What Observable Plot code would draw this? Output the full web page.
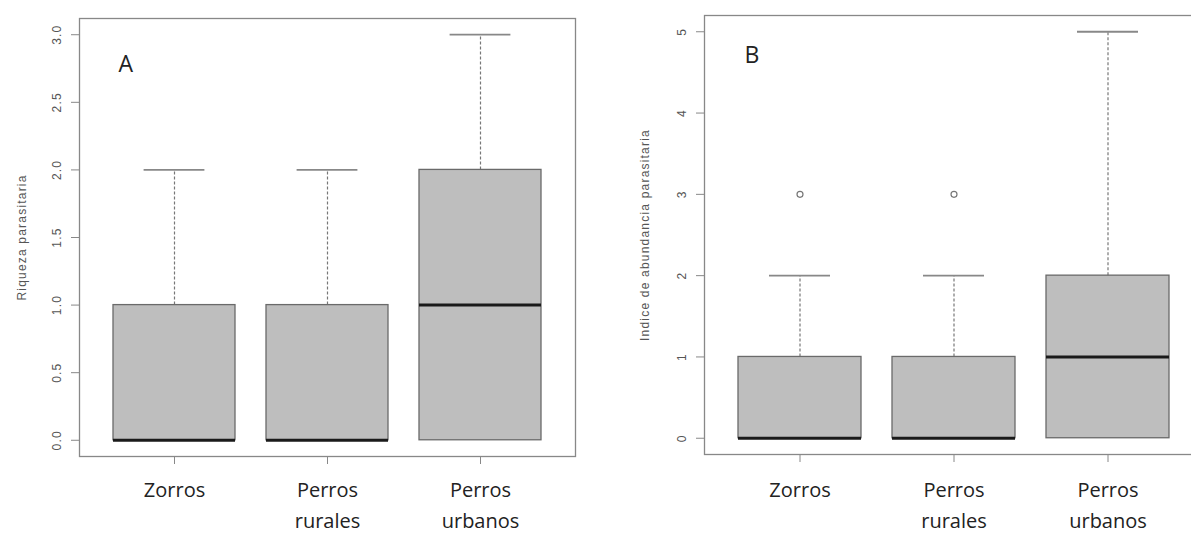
<!DOCTYPE html>
<html>
<head>
<meta charset="utf-8">
<script src="https://cdn.jsdelivr.net/npm/d3@7"></script>
<script src="https://cdn.jsdelivr.net/npm/@observablehq/plot@0.6"></script>
<style>
  html, body { margin: 0; padding: 0; background: #fff; }
  #wrap { position: relative; width: 1191px; height: 534px; overflow: hidden; background: #fff; }
  #wrap > div { position: absolute; top: 0; }
  #panelA { left: 0; width: 590px; }
  #panelB { left: 590px; width: 628px; }
  #wrap svg { max-width: none !important; overflow: visible; }
  svg g[aria-label="y-axis tick label"], svg g[aria-label="y-axis label"] { letter-spacing: 1.2px; fill: #555; }
  svg g[aria-label="x-axis tick label"] { fill: #222; }
  svg g[aria-label="y-axis tick"], svg g[aria-label="x-axis tick"] { stroke: #888; }
</style>
</head>
<body>
<div id="wrap"><div id="panelA"></div><div id="panelB"></div></div>
<script>
// ---- shared categories ----
const categories = ["Zorros", "Perros rurales", "Perros urbanos"];
const tickLabels = ["Zorros", "Perros\nrurales", "Perros\nurbanos"];

// ---- Panel A: Riqueza parasitaria ----
const aLower  = [0, 0, 0];
const aQ1     = [0, 0, 0];
const aMedian = [0, 0, 1];
const aQ3     = [1, 1, 2];
const aUpper  = [2, 2, 3];
const aOutCat = [];
const aOutVal = [];
const aTicks  = [0, 0.5, 1, 1.5, 2, 2.5, 3];
const aTitle  = "Riqueza parasitaria";

// ---- Panel B: Índice de abundancia parasitaria ----
const bLower  = [0, 0, 0];
const bQ1     = [0, 0, 0];
const bMedian = [0, 0, 1];
const bQ3     = [1, 1, 2];
const bUpper  = [2, 2, 5];
const bOutCat = ["Zorros", "Perros rurales"];
const bOutVal = [3, 3];
const bTicks  = [0, 1, 2, 3, 4, 5];
const bTitle  = "Indice de abundancia parasitaria";

function boxPanel({lower, q1, median, q3, upper, outCat, outVal, ticks, fmt, title, letter,
                   width, mLeft, mRight, mTop, mBottom, yDomain, capInset, letterDx, letterDy, labelOffset, xPad}) {
  const rows = categories.map((c, i) => ({cat: c, lo: lower[i], q1: q1[i], med: median[i], q3: q3[i], hi: upper[i]}));
  const outs = outCat.map((c, i) => ({cat: c, v: outVal[i]}));
  return Plot.plot({
    width, height: 534,
    marginLeft: mLeft, marginRight: mRight, marginTop: mTop, marginBottom: mBottom,
    style: {fontFamily: "Liberation Sans, Arial, sans-serif", fontSize: "12px", background: "#fff", overflow: "visible"},
    x: {type: "band", domain: categories, paddingInner: 0.2, paddingOuter: 0.22, align: 0.5},
    y: {domain: yDomain},
    marks: [
      Plot.frame({stroke: "#888", strokeWidth: 1.3}),
      Plot.ruleX(rows, {x: "cat", y1: "q3", y2: "hi", stroke: "#777", strokeWidth: 1.2, strokeDasharray: "3,2"}),
      Plot.tickY(rows, {x: "cat", y: "hi", stroke: "#888", strokeWidth: 1.8, insetLeft: capInset, insetRight: capInset}),
      Plot.barY(rows, {x: "cat", y1: "q1", y2: "q3", fill: "#bebebe", stroke: "#6a6a6a", strokeWidth: 1.3}),
      Plot.tickY(rows, {x: "cat", y: "med", stroke: "#1a1a1a", strokeWidth: 3}),
      Plot.dot(outs, {x: "cat", y: "v", r: 3, stroke: "#777", fill: "none", strokeWidth: 1.2}),
      Plot.axisY({ticks, tickFormat: fmt, tickSize: 8, tickPadding: 11, tickRotate: -90,
                  label: title, labelAnchor: "center", labelArrow: "none", labelOffset}),
      Plot.axisX({tickSize: 8, tickPadding: xPad, label: null,
                  tickFormat: (d) => tickLabels[categories.indexOf(d)],
                  fontSize: 20, fontFamily: "Open Sans", lineHeight: 1.55}),
      Plot.text([letter], {frameAnchor: "top-left", textAnchor: "start", lineAnchor: "top",
                           dx: letterDx, dy: letterDy, fontSize: 23, fontFamily: "Open Sans", fill: "#222"})
    ]
  });
}

document.getElementById("panelA").appendChild(boxPanel({
  lower: aLower, q1: aQ1, median: aMedian, q3: aQ3, upper: aUpper, outCat: aOutCat, outVal: aOutVal,
  ticks: aTicks, fmt: d3.format(".1f"), title: aTitle, letter: "A",
  width: 590, mLeft: 79, mRight: 15, mTop: 18, mBottom: 78, yDomain: [-0.12, 3.12],
  capInset: 30.6, letterDx: 39, letterDy: 37, labelOffset: 62, xPad: 10
}));

document.getElementById("panelB").appendChild(boxPanel({
  lower: bLower, q1: bQ1, median: bMedian, q3: bQ3, upper: bUpper, outCat: bOutCat, outVal: bOutVal,
  ticks: bTicks, fmt: d3.format("d"), title: bTitle, letter: "B",
  width: 628, mLeft: 114, mRight: 15, mTop: 15, mBottom: 80, yDomain: [-0.2, 5.2],
  capInset: 31, letterDx: 40, letterDy: 31, labelOffset: 64, xPad: 12
}));
</script>
</body>
</html>
